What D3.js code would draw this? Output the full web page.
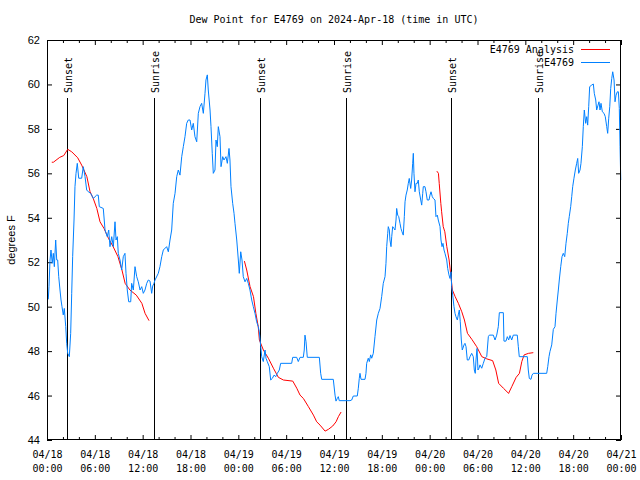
<!DOCTYPE html>
<html>
<head>
<meta charset="utf-8">
<script src="https://cdn.jsdelivr.net/npm/d3@7"></script>
<style>
  html, body { margin: 0; padding: 0; background: #fff; }
  svg { display: block; }
</style>
</head>
<body>
<svg id="chart" width="640" height="480"></svg>
<script>
// ---------------- DATA ----------------
const titleText = "Dew Point for E4769 on 2024-Apr-18 (time in UTC)";
const yLabel = "degrees F";
const startDate = Date.UTC(2024, 3, 18); // 2024-04-18 00:00 UTC
const totalHours = 72;
const yTicks = [44, 46, 48, 50, 52, 54, 56, 58, 60, 62];

// Station observations (hours since 04/18 00:00 UTC, dew point F)
const obsHours = [0.16,0.25,0.38,0.50,0.66,0.79,0.92,1.09,1.22,1.34,1.47,1.63,1.76,1.88,2.04,2.17,2.35,2.47,2.60,2.80,2.97,3.10,3.22,3.39,3.51,3.64,3.80,3.98,4.35,4.55,4.77,4.98,5.18,5.48,5.81,6.23,6.43,6.56,7.06,7.28,7.56,7.74,7.90,8.12,8.32,8.53,8.66,8.82,8.94,9.16,9.37,9.57,9.78,9.91,10.07,10.25,10.50,10.62,10.83,11.04,11.25,11.45,11.67,11.88,12.08,12.29,12.51,12.71,12.92,13.13,13.26,13.42,13.55,13.96,14.17,14.39,14.59,15.01,15.22,15.43,15.64,15.84,16.06,16.27,16.47,16.68,16.90,17.10,17.31,17.52,17.72,17.94,18.15,18.35,18.56,18.78,18.98,19.19,19.40,19.61,19.82,19.94,20.11,20.23,20.45,20.57,20.73,20.86,21.07,21.20,21.36,21.49,21.70,21.83,22.04,22.20,22.45,22.62,22.83,22.95,23.08,23.29,23.46,23.58,23.80,24.00,24.12,24.30,24.46,24.62,24.84,25.05,25.25,25.46,25.68,25.88,26.09,26.30,26.50,26.63,26.81,26.93,27.13,27.35,27.47,27.63,27.88,28.06,28.26,28.48,28.69,28.89,29.14,29.31,30.69,30.82,31.32,31.52,31.74,32.15,32.27,32.36,32.49,32.65,34.16,34.33,34.46,35.91,36.13,36.25,36.41,36.54,36.66,38.01,38.22,38.42,38.92,39.05,39.17,39.26,39.39,39.89,40.01,40.10,40.30,40.43,40.60,40.73,40.93,41.14,41.36,41.56,41.77,41.98,42.18,42.40,42.52,42.61,42.74,42.81,42.94,43.02,43.15,43.24,43.36,43.53,43.65,43.78,43.86,43.99,44.12,44.28,44.40,44.53,44.69,44.82,44.91,45.03,45.19,45.32,45.44,45.62,45.74,45.87,45.95,46.03,46.16,46.29,46.45,46.57,46.70,46.88,47.00,47.13,47.20,47.41,47.54,47.70,47.92,48.04,48.17,48.33,48.46,48.67,48.79,48.96,49.08,49.30,49.42,49.55,49.67,49.80,49.92,50.14,50.26,50.42,50.55,50.68,50.76,50.89,51.05,51.18,51.30,51.47,51.59,51.72,51.84,51.97,52.09,52.31,52.43,52.56,52.72,52.90,53.06,53.27,53.47,53.60,53.72,53.81,53.94,54.06,54.19,54.31,54.53,54.73,54.94,55.16,55.36,55.48,55.98,56.20,56.41,56.61,56.74,57.24,57.32,57.57,57.74,57.91,58.08,58.29,58.49,58.99,59.12,59.24,60.25,60.37,60.50,60.71,60.84,61.00,62.68,62.81,62.97,63.09,63.31,63.51,63.72,63.85,64.01,64.14,64.26,64.44,64.60,64.76,64.94,65.10,65.26,65.39,65.51,65.69,65.82,65.94,66.10,66.27,66.44,66.57,66.69,66.86,66.98,67.15,67.27,67.40,67.57,67.70,67.82,67.95,68.07,68.32,68.53,68.65,68.83,68.95,69.12,69.24,69.37,69.49,69.66,69.87,70.03,70.21,70.33,70.46,70.59,70.71,70.84,70.96,71.13,71.25,71.38,71.54,71.67,71.79,71.88,71.97];
const obsDew = [50.33,50.9,52.1,52.55,51.95,52.4,51.8,53.0,52.1,52.1,51.35,50.75,50.3,50.0,49.63,49.92,49.1,48.35,47.9,47.75,48.8,50.6,52.25,53.9,55.4,56.0,56.45,55.78,55.78,56.3,55.85,55.25,55.17,55.1,54.87,55.02,55.02,54.5,54.42,53.45,53.15,53.45,52.7,53.15,52.7,53.82,53.0,53.15,52.4,52.1,51.65,52.25,52.4,51.5,50.75,50.22,50.22,51.05,50.75,51.8,51.35,51.12,50.75,50.9,50.6,50.75,51.05,51.2,51.15,50.6,50.93,51.05,51.2,51.5,51.8,52.25,52.55,52.7,52.47,53.0,53.45,54.65,55.1,55.85,56.15,55.92,56.75,57.2,57.65,58.25,58.4,58.4,57.95,58.25,57.65,57.42,58.7,59.0,59.15,58.7,59.6,60.2,60.43,59.75,58.85,58.1,56.9,56.0,56.15,57.5,57.2,58.1,57.65,56.3,56.75,56.6,56.75,56.45,57.12,56.6,55.4,54.65,54.2,53.75,53.0,52.1,51.5,52.47,52.1,51.35,51.12,51.27,51.05,50.75,50.3,50.0,49.7,49.32,49.1,48.87,48.2,47.75,47.53,48.05,47.68,47.53,47.3,46.7,46.77,46.92,46.85,47.0,47.15,47.45,47.45,47.72,47.72,47.53,47.72,47.72,48.05,48.72,48.42,47.72,47.72,47.0,46.73,46.73,46.02,45.75,45.87,45.95,45.77,45.77,45.8,45.98,45.98,46.33,46.77,47.0,46.73,46.73,47.0,47.45,47.68,47.53,47.83,47.68,47.9,48.65,49.4,49.7,49.92,50.45,51.05,51.35,51.95,52.7,53.3,53.6,53.45,53.0,52.7,53.15,53.6,53.52,53.45,53.9,54.42,54.12,54.05,53.75,53.52,53.37,53.22,54.05,54.72,55.02,55.25,55.55,55.77,55.32,55.7,56.45,56.9,56.0,55.17,55.55,55.55,55.7,55.17,54.8,54.57,55.1,55.4,55.4,55.17,54.8,54.8,55.02,55.17,54.95,54.87,54.8,54.05,54.12,53.9,53.6,53.0,52.7,52.85,52.55,52.4,52.1,51.72,51.43,51.27,51.57,50.9,50.52,50.0,49.7,49.55,49.4,49.63,49.85,49.32,48.5,48.05,48.28,48.35,48.2,47.6,47.6,47.75,47.9,47.75,47.15,47.0,47.6,48.12,47.15,47.23,47.38,47.23,47.45,47.68,47.75,48.65,48.72,48.72,48.5,48.72,49.1,49.73,49.73,48.45,48.45,48.65,48.5,48.7,48.5,48.72,48.72,48.2,47.75,47.75,47.15,46.77,46.73,46.92,47.0,47.0,47.3,47.75,47.98,48.28,48.98,49.1,49.7,50.3,50.75,51.2,51.8,52.25,52.4,52.25,52.85,53.3,53.75,54.05,54.5,54.95,55.4,55.78,56.15,56.45,56.67,56.0,56.15,56.45,57.2,58.1,58.85,58.25,58.55,58.17,59.0,59.9,59.97,60.02,59.6,59.3,58.85,59.07,59.22,58.85,59.15,58.77,58.7,58.55,58.1,57.8,58.48,59.0,59.82,60.27,60.57,60.2,59.22,59.52,59.67,59.67,58.92,57.2,55.7];

// Analysis (null = gap between runs)
const anaHours = [0.6,0.8,1.6,2.1,2.6,3.1,3.85,4.35,5.0,5.4,5.8,6.25,6.65,7.15,7.7,8.3,8.9,9.4,9.8,10.4,11.2,11.9,12.3,12.8,
  18.0,
  24.76,25.05,25.47,25.9,26.2,26.5,26.64,27.14,27.77,28.4,29.02,29.65,30.83,31.33,31.74,32.16,32.79,33.42,33.83,34.25,34.88,35.3,35.84,36.26,36.55,36.89,
  42.0,
  48.9,49.1,49.2,49.4,49.5,49.7,49.9,50.15,50.44,50.65,50.85,51.2,51.6,52.03,52.36,52.74,53.29,53.9,54.54,55.17,55.9,56.3,56.65,57.25,57.9,58.3,58.85,59.26,59.56,59.85,60.4,61.0];
const anaDew = [56.5,56.5,56.72,56.8,57.08,56.97,56.7,56.37,55.85,55.17,54.87,54.42,53.82,53.52,53.08,52.7,52.25,51.65,51.05,50.75,50.52,50.15,49.7,49.37,
  null,
  52.05,51.65,50.9,50.45,49.7,49.1,48.5,48.05,47.68,47.23,46.82,46.7,46.65,46.33,46.02,45.87,45.5,45.12,44.82,44.67,44.4,44.48,44.63,44.82,45.05,45.26,
  null,
  56.1,56.0,55.55,54.65,54.27,53.6,53.37,52.7,52.1,51.43,50.75,50.45,50.15,49.77,49.4,48.8,48.53,48.2,47.75,47.65,47.57,47.15,46.55,46.33,46.1,46.4,46.82,47.0,47.53,47.83,47.9,47.93];

// Sun events (hours since start)
const sunHours = [2.51, 13.42, 26.72, 37.5, 50.68, 61.59];
const sunNames = ["Sunset", "Sunrise", "Sunset", "Sunrise", "Sunset", "Sunrise"];

const seriesNames = ["E4769 Analysis", "E4769"];
const seriesColors = ["#ff0000", "#0080ff"];

// ---------------- CHART ----------------
const toDate = h => new Date(startDate + h * 3600000);
const mono = "'DejaVu Sans Mono', 'Liberation Mono', monospace";
const sans = "'Liberation Sans', Arial, sans-serif";

const svg = d3.select("#chart");
const L = 47, R = 621, T = 40, B = 440;

const x = d3.scaleUtc().domain([toDate(0), toDate(totalHours)]).range([L, R]);
const y = d3.scaleLinear().domain([44, 62]).range([B, T]);

const majorTicks = d3.utcHour.every(6).range(toDate(0), toDate(totalHours + 0.01));
const minorTicks = d3.utcHour.every(2).range(toDate(0), toDate(totalHours + 0.01))
  .filter(d => d.getUTCHours() % 6 !== 0);

// Title
svg.append("text")
  .attr("x", (L + R) / 2).attr("y", 23)
  .attr("text-anchor", "middle")
  .attr("font-family", mono).attr("font-size", 10)
  .text(titleText);

// Y label
svg.append("text")
  .attr("transform", `translate(15,${(T + B) / 2}) rotate(-90)`)
  .attr("text-anchor", "middle")
  .attr("font-family", sans).attr("font-size", 11)
  .text(yLabel);

// Axes
function styleAxis(g) {
  g.select(".domain").remove();
  g.selectAll(".tick line").attr("stroke", "#000");
}
// bottom major
const gB = svg.append("g").attr("transform", `translate(0,${B})`)
  .call(d3.axisBottom(x).tickValues(majorTicks).tickSize(-5).tickPadding(11).tickFormat(""))
  .call(styleAxis);
gB.selectAll(".tick text").each(function(d) {
  const t = d3.select(this).attr("font-family", mono).attr("font-size", 10).attr("fill", "#000").attr("dy", "0.71em");
  t.append("tspan").attr("x", 0).text(d3.utcFormat("%m/%d")(d));
  t.append("tspan").attr("x", 0).attr("dy", 14).text(d3.utcFormat("%H:%M")(d));
});
svg.append("g").attr("transform", `translate(0,${B})`)
  .call(d3.axisBottom(x).tickValues(minorTicks).tickSize(-3).tickFormat(""))
  .call(styleAxis);
// top mirrored
svg.append("g").attr("transform", `translate(0,${T})`)
  .call(d3.axisTop(x).tickValues(majorTicks).tickSize(-5).tickFormat(""))
  .call(styleAxis);
svg.append("g").attr("transform", `translate(0,${T})`)
  .call(d3.axisTop(x).tickValues(minorTicks).tickSize(-3).tickFormat(""))
  .call(styleAxis);
// left
const gL = svg.append("g").attr("transform", `translate(${L},0)`)
  .call(d3.axisLeft(y).tickValues(yTicks).tickSize(-5).tickPadding(7).tickFormat(d3.format("d")))
  .call(styleAxis);
gL.selectAll(".tick text").attr("font-family", sans).attr("font-size", 11).attr("fill", "#000");
// right mirrored
svg.append("g").attr("transform", `translate(${R},0)`)
  .call(d3.axisRight(y).tickValues(yTicks).tickSize(-5).tickFormat(""))
  .call(styleAxis);

// Sun lines
const sun = svg.append("g");
sunHours.forEach((h, i) => {
  const sx = Math.round(x(toDate(h))) + 0.5;
  sun.append("line").attr("x1", sx).attr("x2", sx).attr("y1", 98).attr("y2", B)
    .attr("stroke", "#000").attr("stroke-width", 1);
  sun.append("text")
    .attr("transform", `translate(${sx + 4},93) rotate(-90)`)
    .attr("text-anchor", "start")
    .attr("font-family", mono).attr("font-size", 10)
    .text(sunNames[i]);
});

// Lines
const line = d3.line()
  .defined(d => d[1] != null)
  .x(d => x(toDate(d[0])))
  .y(d => y(d[1]));

svg.append("path")
  .datum(anaHours.map((h, i) => [h, anaDew[i]]))
  .attr("fill", "none").attr("stroke", seriesColors[0]).attr("stroke-width", 1)
  .attr("d", line);

svg.append("path")
  .datum(obsHours.map((h, i) => [h, obsDew[i]]))
  .attr("fill", "none").attr("stroke", seriesColors[1]).attr("stroke-width", 1)
  .attr("d", line);

// Frame
svg.append("rect").attr("x", L + 0.5).attr("y", T + 0.5)
  .attr("width", R - L - 1).attr("height", B - T - 1)
  .attr("fill", "none").attr("stroke", "#000").attr("stroke-width", 1);

// Legend
const leg = svg.append("g");
seriesNames.forEach((name, i) => {
  const ly = 49 + i * 13;
  leg.append("text").attr("x", 574).attr("y", ly + 4)
    .attr("text-anchor", "end")
    .attr("font-family", mono).attr("font-size", 10)
    .text(name);
  leg.append("line").attr("x1", 581).attr("x2", 610).attr("y1", ly + 0.5).attr("y2", ly + 0.5)
    .attr("stroke", seriesColors[i]).attr("stroke-width", 1);
});
</script>
</body>
</html>
